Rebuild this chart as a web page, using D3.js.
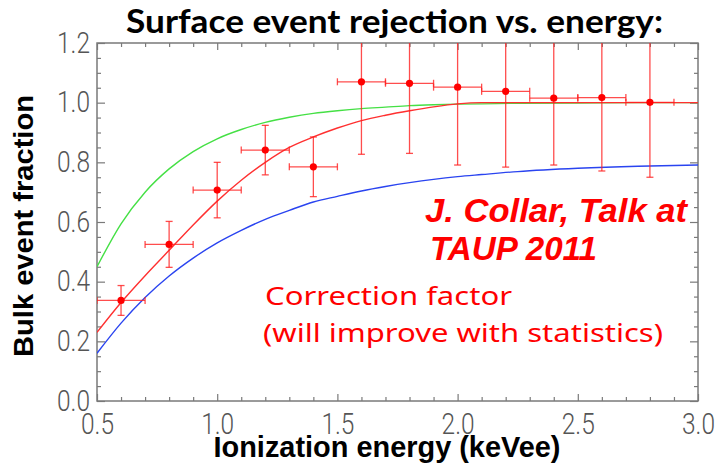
<!DOCTYPE html>
<html>
<head>
<meta charset="utf-8">
<script src="https://cdn.jsdelivr.net/npm/d3@7"></script>
<style>
  html, body { margin: 0; padding: 0; background: #fff; }
  svg { display: block; }
</style>
</head>
<body>
<svg id="chart" width="715" height="464"></svg>
<script>
// Measured bulk-event fraction per ionization-energy bin
const binCenters = [0.6, 0.8, 1.0, 1.2, 1.4, 1.6, 1.8, 2.0, 2.2, 2.4, 2.6, 2.8];
const bulkFraction = [0.337, 0.525, 0.707, 0.841, 0.785, 1.070, 1.065, 1.052, 1.038, 1.015, 1.017, 1.001];
const fractionErr = [0.050, 0.077, 0.093, 0.083, 0.100, 0.243, 0.235, 0.261, 0.254, 0.224, 0.246, 0.251];
const binHalfWidth = [0.1, 0.1, 0.1, 0.1, 0.1, 0.1, 0.1, 0.1, 0.1, 0.1, 0.1, 0.1];

// Correction-factor curves sampled along energy
const curveEnergy = [0.5, 0.6, 0.7, 0.8, 0.9, 1.0, 1.1, 1.2, 1.3, 1.4, 1.5, 1.6, 1.7, 1.8, 1.9, 2.0, 2.1, 2.25, 2.5, 2.75, 3.0];
const greenCurve = [0.450, 0.594, 0.700, 0.778, 0.836, 0.879, 0.910, 0.934, 0.951, 0.964, 0.973, 0.980, 0.985, 0.990, 0.993, 0.995, 0.996, 0.998, 0.999, 1.000, 1.000];
const redCurve   = [0.230, 0.330, 0.420, 0.505, 0.590, 0.670, 0.740, 0.800, 0.850, 0.885, 0.915, 0.940, 0.958, 0.973, 0.986, 0.996, 1.000, 1.000, 1.000, 1.000, 1.000];
const blueCurve  = [0.160, 0.261, 0.347, 0.419, 0.479, 0.530, 0.572, 0.609, 0.639, 0.667, 0.686, 0.704, 0.719, 0.732, 0.743, 0.752, 0.759, 0.769, 0.780, 0.787, 0.791];

// Axis ticks
const xTickValues = [0.5, 1.0, 1.5, 2.0, 2.5, 3.0];
const xTickLabels = ["0.5", "1.0", "1.5", "2.0", "2.5", "3.0"];
const yTickValues = [0.0, 0.2, 0.4, 0.6, 0.8, 1.0, 1.2];
const yTickLabels = ["0.0", "0.2", "0.4", "0.6", "0.8", "1.0", "1.2"];

const svg = d3.select("#chart");
const plotLeft = 97, plotRight = 698, plotTop = 43, plotBottom = 401;

const x = d3.scaleLinear().domain([0.5, 3.0]).range([plotLeft, plotRight]);
const y = d3.scaleLinear().domain([0, 1.2]).range([plotBottom, plotTop]);

const frameColor = "#7a7a7a";
const tickFont = "Roboto, 'DejaVu Sans', sans-serif";

svg.append("defs").append("clipPath").attr("id", "plotClip")
  .append("rect").attr("x", plotLeft).attr("y", plotTop)
  .attr("width", plotRight - plotLeft).attr("height", plotBottom - plotTop);

// minor tick positions
const xMinor = d3.range(0, 26).map(i => 0.5 + i * 0.1).filter(v => !xTickValues.some(t => Math.abs(t - v) < 1e-6));
const yMinor = d3.range(0, 25).map(i => i * 0.05).filter(v => !yTickValues.some(t => Math.abs(t - v) < 1e-6));

function styleAxis(g) {
  g.select(".domain").remove();
  g.selectAll(".tick line").attr("stroke", frameColor).attr("stroke-width", 1.2);
}

// bottom
svg.append("g").attr("transform", `translate(0,${plotBottom})`)
  .call(d3.axisBottom(x).tickValues(xMinor).tickSize(-4).tickFormat(""))
  .call(styleAxis);
const gxb = svg.append("g").attr("transform", `translate(0,${plotBottom})`)
  .call(d3.axisBottom(x).tickValues(xTickValues).tickSize(-7).tickPadding(12)
    .tickFormat((d, i) => xTickLabels[i]))
  .call(styleAxis);
// top
svg.append("g").attr("transform", `translate(0,${plotTop})`)
  .call(d3.axisTop(x).tickValues(xMinor).tickSize(-4).tickFormat(""))
  .call(styleAxis);
svg.append("g").attr("transform", `translate(0,${plotTop})`)
  .call(d3.axisTop(x).tickValues(xTickValues).tickSize(-7).tickFormat(""))
  .call(styleAxis);
// left
svg.append("g").attr("transform", `translate(${plotLeft},0)`)
  .call(d3.axisLeft(y).tickValues(yMinor).tickSize(-4).tickFormat(""))
  .call(styleAxis);
const gyl = svg.append("g").attr("transform", `translate(${plotLeft},0)`)
  .call(d3.axisLeft(y).tickValues(yTickValues).tickSize(-8).tickPadding(7)
    .tickFormat((d, i) => yTickLabels[i]))
  .call(styleAxis);
// right
svg.append("g").attr("transform", `translate(${plotRight},0)`)
  .call(d3.axisRight(y).tickValues(yMinor).tickSize(-4).tickFormat(""))
  .call(styleAxis);
svg.append("g").attr("transform", `translate(${plotRight},0)`)
  .call(d3.axisRight(y).tickValues(yTickValues).tickSize(-8).tickFormat(""))
  .call(styleAxis);

[gxb, gyl].forEach(g => g.selectAll(".tick text")
  .attr("font-family", tickFont)
  .attr("font-weight", 300)
  .attr("font-size", 29)
  .attr("fill", "#555")
  .attr("textLength", 33)
  .attr("lengthAdjust", "spacingAndGlyphs"));

// frame
svg.append("rect")
  .attr("x", plotLeft).attr("y", plotTop)
  .attr("width", plotRight - plotLeft).attr("height", plotBottom - plotTop)
  .attr("fill", "none").attr("stroke", frameColor).attr("stroke-width", 1.5);

// curves
const plot = svg.append("g").attr("clip-path", "url(#plotClip)");
const line = d3.line().x(d => x(d[0])).y(d => y(d[1])).curve(d3.curveMonotoneX);
[[greenCurve, "#45e045"], [redCurve, "#ff3030"], [blueCurve, "#2a44f0"]].forEach(([vals, col]) => {
  plot.append("path")
    .datum(curveEnergy.map((e, i) => [e, vals[i]]))
    .attr("fill", "none").attr("stroke", col).attr("stroke-width", 1.4)
    .attr("d", line);
});

// error bars
const pts = binCenters.map((e, i) => ({ e, v: bulkFraction[i], dv: fractionErr[i], de: binHalfWidth[i] }));
const cap = 3.5;
const errG = plot.append("g").attr("stroke", "#ff2020").attr("stroke-opacity", 0.8).attr("stroke-width", 1.3);
pts.forEach(p => {
  const cx = x(p.e), cy = y(p.v);
  const y0 = y(p.v - p.dv), y1 = y(p.v + p.dv);
  const x0 = x(p.e - p.de), x1 = x(p.e + p.de);
  errG.append("line").attr("x1", cx).attr("x2", cx).attr("y1", y0).attr("y2", y1);
  errG.append("line").attr("x1", cx - cap).attr("x2", cx + cap).attr("y1", y0).attr("y2", y0);
  errG.append("line").attr("x1", cx - cap).attr("x2", cx + cap).attr("y1", y1).attr("y2", y1);
  errG.append("line").attr("x1", x0).attr("x2", x1).attr("y1", cy).attr("y2", cy);
  errG.append("line").attr("x1", x0).attr("x2", x0).attr("y1", cy - cap).attr("y2", cy + cap);
  errG.append("line").attr("x1", x1).attr("x2", x1).attr("y1", cy - cap).attr("y2", cy + cap);
});
plot.append("g").selectAll("circle").data(pts).join("circle")
  .attr("cx", d => x(d.e)).attr("cy", d => y(d.v)).attr("r", 3.6)
  .attr("fill", "#ff0000");

// titles
svg.append("text")
  .attr("x", 126).attr("y", 33)
  .attr("font-family", "Lato, 'Open Sans', sans-serif").attr("font-weight", 700)
  .attr("font-size", 32).attr("fill", "#000")
  .attr("textLength", 537).attr("lengthAdjust", "spacingAndGlyphs")
  .text("Surface event rejection vs. energy:");

svg.append("text")
  .attr("x", 387).attr("y", 457).attr("text-anchor", "middle")
  .attr("font-family", "'Liberation Sans', Arial, sans-serif").attr("font-weight", 700)
  .attr("font-size", 30).attr("fill", "#000")
  .attr("textLength", 347).attr("lengthAdjust", "spacingAndGlyphs")
  .text("Ionization energy (keVee)");

svg.append("text")
  .attr("transform", "translate(33,226) rotate(-90)").attr("text-anchor", "middle")
  .attr("font-family", "'Liberation Sans', Arial, sans-serif").attr("font-weight", 700)
  .attr("font-size", 28).attr("fill", "#000")
  .attr("textLength", 262).attr("lengthAdjust", "spacingAndGlyphs")
  .text("Bulk event fraction");

// annotations
const ann = svg.append("g").attr("fill", "#ff0000");
ann.append("text").attr("x", 425).attr("y", 222)
  .attr("font-family", "'Liberation Sans', Arial, sans-serif").attr("font-weight", 700)
  .attr("font-style", "italic").attr("font-size", 33)
  .attr("textLength", 262).attr("lengthAdjust", "spacingAndGlyphs")
  .text("J. Collar, Talk at");
ann.append("text").attr("x", 430).attr("y", 260)
  .attr("font-family", "'Liberation Sans', Arial, sans-serif").attr("font-weight", 700)
  .attr("font-style", "italic").attr("font-size", 33)
  .attr("textLength", 167).attr("lengthAdjust", "spacingAndGlyphs")
  .text("TAUP 2011");
ann.append("text").attr("x", 265).attr("y", 305)
  .attr("font-family", "'Noto Sans', sans-serif").attr("font-size", 25)
  .attr("textLength", 247).attr("lengthAdjust", "spacingAndGlyphs")
  .text("Correction factor");
ann.append("text").attr("x", 263).attr("y", 342)
  .attr("font-family", "'Noto Sans', sans-serif").attr("font-size", 25)
  .attr("textLength", 400).attr("lengthAdjust", "spacingAndGlyphs")
  .text("(will improve with statistics)");
</script>
</body>
</html>
